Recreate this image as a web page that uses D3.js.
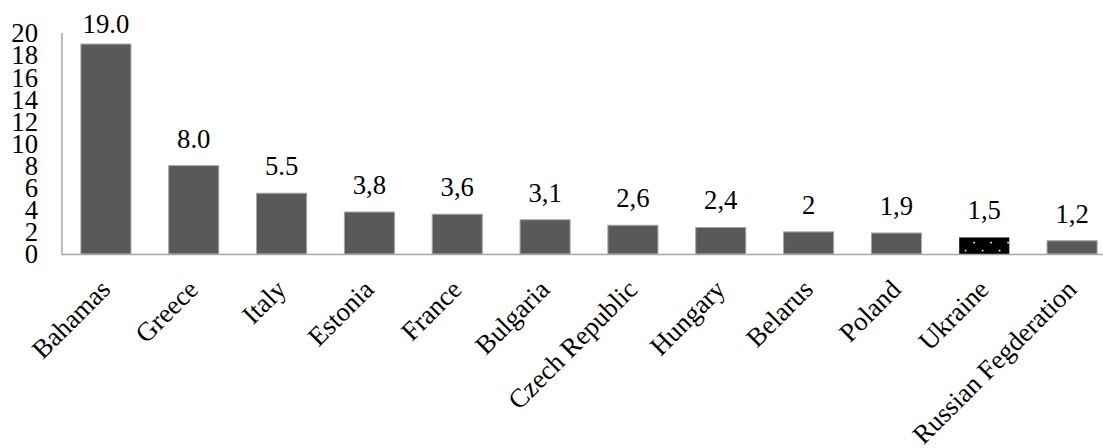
<!DOCTYPE html>
<html>
<head>
<meta charset="utf-8">
<script src="https://cdn.jsdelivr.net/npm/d3@7"></script>
<style>
  html, body { margin: 0; padding: 0; background: #fff; }
  svg { display: block; }
</style>
</head>
<body>
<svg id="chart" width="1103" height="448"></svg>
<script>
// Countries, values and the label text shown above each bar
const countries = ["Bahamas", "Greece", "Italy", "Estonia", "France", "Bulgaria",
  "Czech Republic", "Hungary", "Belarus", "Poland", "Ukraine", "Russian Fegderation"];
const values = [19.0, 8.0, 5.5, 3.8, 3.6, 3.1, 2.6, 2.4, 2, 1.9, 1.5, 1.2];
const valueLabels = ["19.0", "8.0", "5.5", "3,8", "3,6", "3,1", "2,6", "2,4", "2", "1,9", "1,5", "1,2"];
const yTicks = [0, 2, 4, 6, 8, 10, 12, 14, 16, 18, 20];
const highlighted = ["Ukraine"];

const serif = "'Liberation Serif', serif";
const svg = d3.select("#chart");
const fontSize = 26.7;
const plot = { left: 62, right: 1116, top: 33, bottom: 254 };

const x = d3.scaleBand()
  .domain(countries)
  .range([plot.left, plot.right])
  .paddingInner(0.43)
  .paddingOuter(0.215);

const y = d3.scaleLinear()
  .domain([0, 20])
  .range([plot.bottom, plot.top]);

// Dotted fill for the highlighted bar
const defs = svg.append("defs");
const pat = defs.append("pattern")
  .attr("id", "dots")
  .attr("patternUnits", "userSpaceOnUse")
  .attr("width", 17).attr("height", 16);
pat.append("rect").attr("width", 17).attr("height", 16).attr("fill", "#000");
pat.append("rect").attr("x", 4.3).attr("y", 1.8).attr("width", 1.6).attr("height", 1.6).attr("fill", "#fff");
pat.append("rect").attr("x", 12.8).attr("y", 9.8).attr("width", 1.6).attr("height", 1.6).attr("fill", "#fff");

const data = countries.map((c, i) => ({ c, v: values[i], label: valueLabels[i] }));

// Bars
svg.append("g").selectAll("rect")
  .data(data)
  .join("rect")
  .attr("x", d => x(d.c))
  .attr("y", d => y(d.v))
  .attr("width", x.bandwidth())
  .attr("height", d => y(0) - y(d.v))
  .attr("fill", d => highlighted.includes(d.c) ? "url(#dots)" : "#595959")
  .attr("stroke", d => highlighted.includes(d.c) ? "none" : "#a6a6a6")
  .attr("stroke-width", 1);

// Axis lines
svg.append("line")
  .attr("x1", plot.left).attr("x2", 1103)
  .attr("y1", y(0) + 0.5).attr("y2", y(0) + 0.5)
  .attr("stroke", "#a6a6a6").attr("stroke-width", 1.5);
svg.append("line")
  .attr("x1", plot.left).attr("x2", plot.left)
  .attr("y1", y(20)).attr("y2", y(0) + 1)
  .attr("stroke", "#a6a6a6").attr("stroke-width", 1.5);

// Y tick labels
const yAxis = d3.axisLeft(y).tickValues(yTicks).tickSize(0).tickPadding(0).tickFormat(d3.format("d"));
const gy = svg.append("g").attr("transform", `translate(${plot.left - 24},0)`).call(yAxis);
gy.select(".domain").remove();
gy.selectAll("text")
  .style("font-family", serif)
  .style("font-size", fontSize + "px")
  .attr("fill", "#000")
  .attr("dy", "0.33em");

// Value labels above bars
svg.append("g")
  .selectAll("text")
  .data(data)
  .join("text")
  .attr("x", d => x(d.c) + x.bandwidth() / 2)
  .attr("y", d => Math.max(y(d.v) - 18, plot.top))
  .attr("text-anchor", "middle")
  .style("font-family", serif)
  .style("font-size", fontSize + "px")
  .attr("fill", "#000")
  .text(d => d.label);

// Rotated category labels
svg.append("g")
  .selectAll("text")
  .data(data)
  .join("text")
  .attr("transform", d => `translate(${x(d.c) + x.bandwidth() / 2 + 6},${291}) rotate(-45)`)
  .attr("text-anchor", "end")
  .style("font-family", serif)
  .style("font-size", fontSize + "px")
  .attr("fill", "#000")
  .text(d => d.c);
</script>
</body>
</html>
